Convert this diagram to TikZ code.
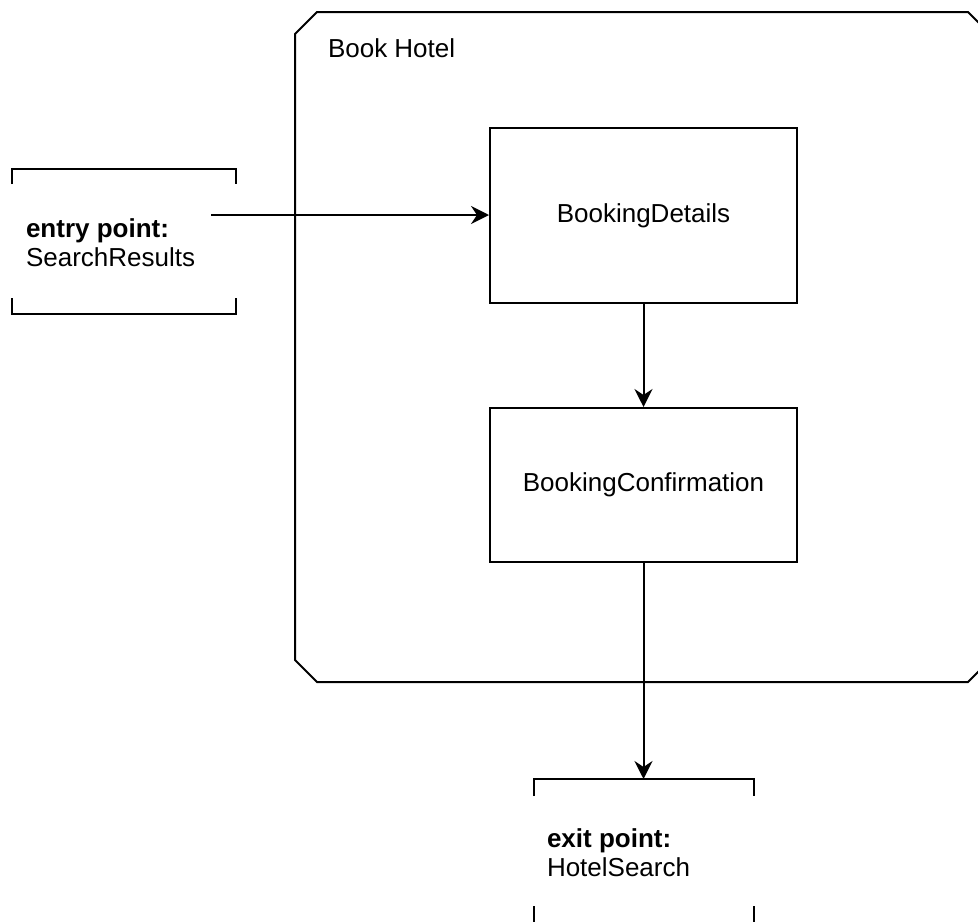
\documentclass[tikz,border=0pt]{standalone}
\usepackage{fontspec}
\setmainfont{Liberation Sans}
\usetikzlibrary{arrows.meta,calc}

\begin{document}
\begin{tikzpicture}[x=0.5pt,y=-0.5pt,
      line width=1pt,
      font=\fontsize{13}{14.5}\selectfont,
      flow/.style={-{Stealth[length=9pt,width=9pt,inset=3pt]}},
      screen/.style={draw,minimum width=153.5pt,inner sep=0pt},
      point/.style={minimum width=111pt,minimum height=71.5pt,inner sep=0pt},
      caption/.style={anchor=west,align=left,inner sep=0pt}
]
      \useasboundingbox (0,0) rectangle (978,921);
      \clip (0,0) rectangle (978,921);

      % the flow
      \node[minimum width=346.5pt,minimum height=334pt,inner sep=0pt] (hotel) at (642.5,347) {};
      \draw ($(hotel.north west)+(0,22)$) -- ($(hotel.north west)+(22,0)$)
         -- ($(hotel.north east)+(-22,0)$) -- ($(hotel.north east)+(0,22)$)
         -- ($(hotel.south east)+(0,-22)$) -- ($(hotel.south east)+(-22,0)$)
         -- ($(hotel.south west)+(22,0)$) -- ($(hotel.south west)+(0,-22)$) -- cycle;
      \node[caption] (title) at (327,48) {Book Hotel};

      \node[screen,minimum height=87.5pt] (details) at (643.5,215.5) {BookingDetails};
      \node[screen,minimum height=77pt] (confirm) at (643.5,485) {BookingConfirmation};

      % entry point
      \node[point] (entry) at (124,241.5) {};
      \draw ($(entry.north west)+(0,15)$) -- (entry.north west) -- (entry.north east) -- ($(entry.north east)+(0,15)$);
      \draw ($(entry.south west)+(0,-16)$) -- (entry.south west) -- (entry.south east) -- ($(entry.south east)+(0,-16)$);
      \node[caption] (entrytext) at (25,243) {\textbf{entry point:}\\SearchResults};
      \coordinate (entryout) at (211,215);

      % exit point
      \node[point,minimum width=109pt,minimum height=72pt] (exit) at (643.5,852) {};
      \draw ($(exit.north west)+(0,17)$) -- (exit.north west) -- (exit.north east) -- ($(exit.north east)+(0,17)$);
      \draw ($(exit.south west)+(0,-19)$) -- (exit.south west) -- (exit.south east) -- ($(exit.south east)+(0,-19)$);
      \node[caption] (exittext) at (546,853) {\textbf{exit point:}\\HotelSearch};

      \draw[flow] (entryout) -- (entryout -| details.west);
      \draw[flow] (details) -- (confirm);
      \draw[flow] (confirm) -- (exit);
\end{tikzpicture}
\end{document}
